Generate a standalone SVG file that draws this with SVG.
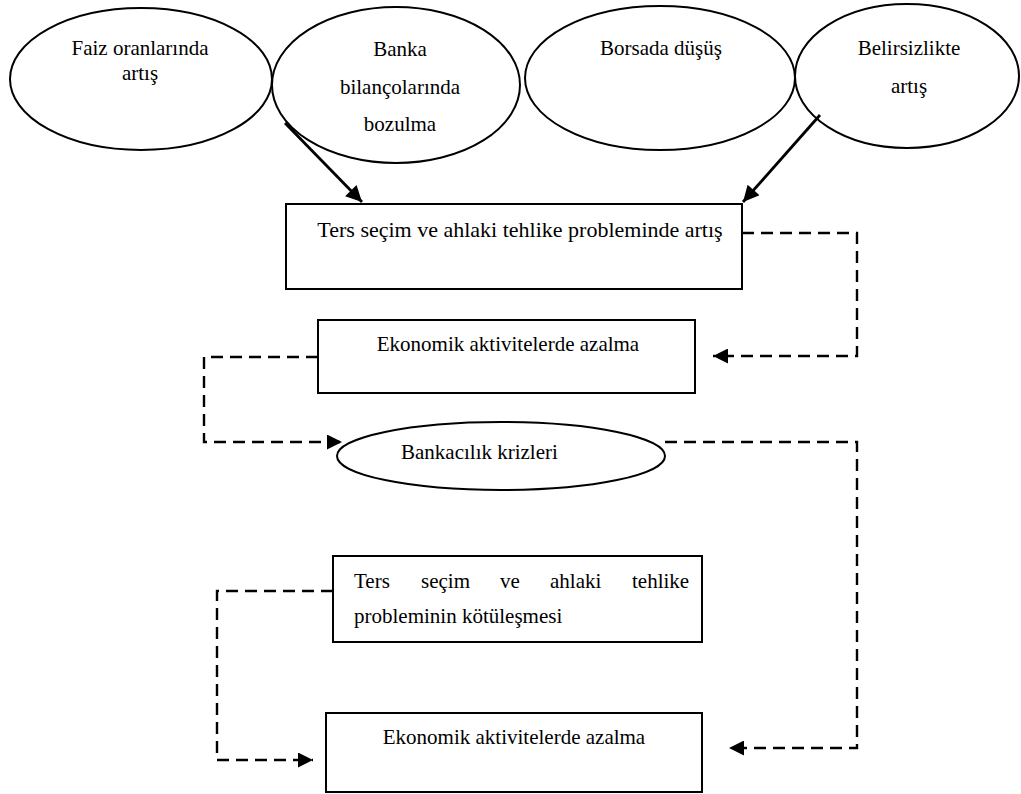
<svg xmlns="http://www.w3.org/2000/svg" width="1021" height="794" viewBox="0 0 1021 794">
<style>
  .shape { fill: #ffffff; stroke: #000000; stroke-width: 2; }
  .lbl { font-family: "Liberation Serif", "Times New Roman", serif; font-size: 21px; fill: #000000; }
  .big { font-size: 22px; }
  .mid { text-anchor: middle; }
  .solid { fill: none; stroke: #000000; stroke-width: 2.8; }
  .dash { fill: none; stroke: #000000; stroke-width: 2.4; stroke-dasharray: 12 7; }
</style>
<defs>
  <marker id="ah" viewBox="0 0 10 10" refX="10" refY="5" markerWidth="20" markerHeight="16" markerUnits="userSpaceOnUse" orient="auto">
    <path d="M0,0 L10,5 L0,10 z" fill="#000000"/>
  </marker>
  <marker id="ahd" viewBox="0 0 10 10" refX="10" refY="5" markerWidth="17" markerHeight="15" markerUnits="userSpaceOnUse" orient="auto">
    <path d="M0,0 L10,5 L0,10 z" fill="#000000"/>
  </marker>
</defs>
<rect width="1021" height="794" fill="#ffffff"/>

<g id="n-faiz">
  <ellipse class="shape" cx="141" cy="79" rx="131" ry="71"/>
  <text class="lbl mid" x="140" y="55">Faiz oranlarında</text>
  <text class="lbl mid" x="140" y="80">artış</text>
</g>
<g id="n-banka">
  <ellipse class="shape" cx="396" cy="85" rx="124" ry="78"/>
  <text class="lbl mid" x="400" y="56">Banka</text>
  <text class="lbl mid" x="400" y="94">bilançolarında</text>
  <text class="lbl mid" x="400" y="131">bozulma</text>
</g>
<g id="n-borsa">
  <ellipse class="shape" cx="660" cy="78" rx="135" ry="72"/>
  <text class="lbl mid" x="661" y="55">Borsada düşüş</text>
</g>
<g id="n-belirsizlik">
  <ellipse class="shape" cx="907" cy="76" rx="112" ry="72"/>
  <text class="lbl mid" x="909" y="55">Belirsizlikte</text>
  <text class="lbl mid" x="909" y="93">artış</text>
</g>

<g id="n-ters1">
  <rect class="shape" x="286" y="204" width="456" height="85"/>
  <text class="lbl big mid" x="520" y="237">Ters seçim ve ahlaki tehlike probleminde artış</text>
</g>
<g id="n-ekonomik1">
  <rect class="shape" x="318" y="320" width="377" height="73"/>
  <text class="lbl mid" x="508" y="351">Ekonomik aktivitelerde azalma</text>
</g>
<g id="n-kriz">
  <ellipse class="shape" cx="501" cy="456" rx="164" ry="34"/>
  <text class="lbl" x="401" y="459">Bankacılık krizleri</text>
</g>
<g id="n-ters2">
  <rect class="shape" x="333" y="556" width="369" height="86"/>
  <text class="lbl" y="588"><tspan x="354">Ters</tspan><tspan x="421">seçim</tspan><tspan x="500">ve</tspan><tspan x="550">ahlaki</tspan><tspan x="632">tehlike</tspan></text>
  <text class="lbl" x="354" y="623">probleminin kötüleşmesi</text>
</g>
<g id="n-ekonomik2">
  <rect class="shape" x="326" y="713" width="376" height="79"/>
  <text class="lbl mid" x="514" y="744">Ekonomik aktivitelerde azalma</text>
</g>

<g id="connectors">
  <path id="c1" class="solid" d="M285,123 L362,202" marker-end="url(#ah)"/>
  <path id="c2" class="solid" d="M820,115 L743,202" marker-end="url(#ah)"/>
  <path id="c3" class="dash" d="M742,233 L857,233 L857,356 L713,356" marker-end="url(#ahd)"/>
  <path id="c4" class="dash" d="M318,357 L204,357 L204,442 L342,442" marker-end="url(#ahd)"/>
  <path id="c5" class="dash" d="M665,442 L857,442 L857,748 L729,748" marker-end="url(#ahd)"/>
  <path id="c6" class="dash" d="M333,591 L217,591 L217,760 L313,760" marker-end="url(#ahd)"/>
</g>
</svg>
